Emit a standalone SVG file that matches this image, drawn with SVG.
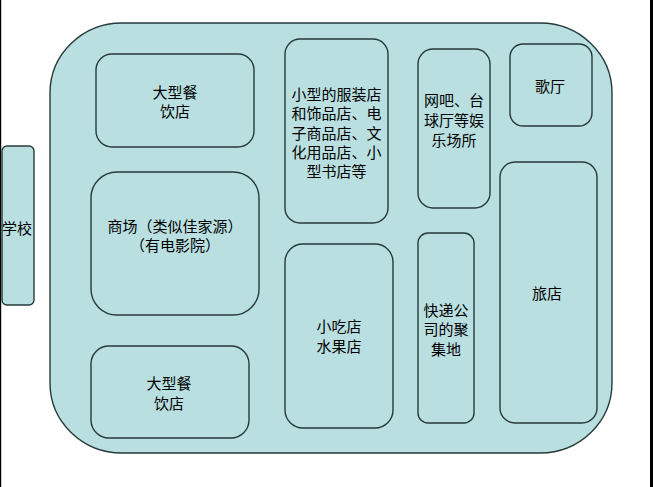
<svg xmlns="http://www.w3.org/2000/svg" width="653" height="487" viewBox="0 0 653 487">
<style>
.b{fill:#b9dfe0;stroke:#263a3a;stroke-width:1.4}
.t{font-family:"Noto Sans CJK SC","Liberation Sans",sans-serif;font-size:15px;fill:#000;text-anchor:middle}
</style>
<rect x="0" y="0" width="653" height="487" fill="#fff"/>
<rect x="0" y="0" width="1.2" height="487" fill="#000"/>
<rect x="650" y="0" width="3" height="487" fill="#000"/>
<g id="area"><rect class="b" x="50" y="23" width="562" height="430" rx="72" ry="70"/></g>
<g id="school"><rect class="b" x="2" y="146" width="32" height="159" rx="5"/><text class="t" x="17" y="234">学校</text></g>
<g id="restaurant-top"><rect class="b" x="96" y="54" width="158" height="93" rx="16"/><text class="t" x="175" y="98">大型餐</text><text class="t" x="175" y="117">饮店</text></g>
<g id="mall"><rect class="b" x="91" y="172" width="168" height="143" rx="26"/><text class="t" x="175" y="232">商场（类似佳家源）</text><text class="t" x="175" y="251">（有电影院）</text></g>
<g id="restaurant-bottom"><rect class="b" x="91" y="346" width="158" height="92" rx="18"/><text class="t" x="169" y="389">大型餐</text><text class="t" x="169" y="409">饮店</text></g>
<g id="shops"><rect class="b" x="285" y="39" width="103" height="184" rx="15"/><text class="t" x="336.5" y="100">小型的服装店</text><text class="t" x="336.5" y="119">和饰品店、电</text><text class="t" x="336.5" y="139">子商品店、文</text><text class="t" x="336.5" y="158">化用品店、小</text><text class="t" x="336.5" y="177">型书店等</text></g>
<g id="snacks"><rect class="b" x="285" y="244" width="108" height="184" rx="18"/><text class="t" x="339" y="332">小吃店</text><text class="t" x="339" y="352">水果店</text></g>
<g id="entertainment"><rect class="b" x="418" y="49" width="72" height="159" rx="15"/><text class="t" x="454" y="106">网吧、台</text><text class="t" x="454" y="126">球厅等娱</text><text class="t" x="454" y="146">乐场所</text></g>
<g id="express"><rect class="b" x="418" y="233" width="56" height="190" rx="10"/><text class="t" x="446" y="316">快递公</text><text class="t" x="446" y="335">司的聚</text><text class="t" x="446" y="355">集地</text></g>
<g id="ktv"><rect class="b" x="510" y="44" width="82" height="82" rx="13"/><text class="t" x="550" y="92">歌厅</text></g>
<g id="hotel"><rect class="b" x="500" y="162" width="97" height="261" rx="15"/><text class="t" x="547" y="299">旅店</text></g>
<g id="connectors"></g>
</svg>
